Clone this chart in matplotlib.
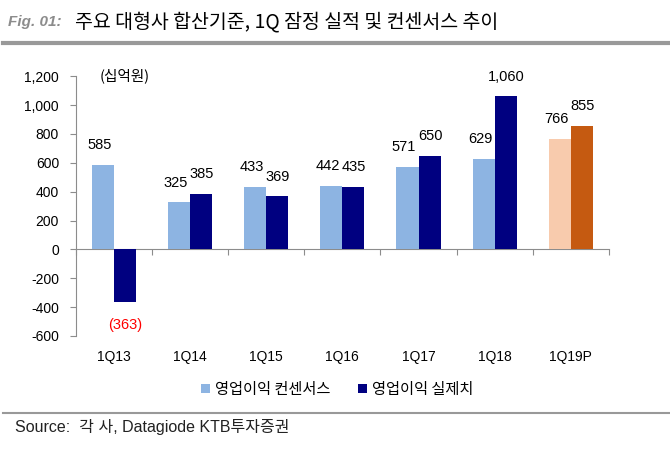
import matplotlib
matplotlib.use("Agg")
import matplotlib.pyplot as plt
import numpy as np

plt.rcParams['font.family'] = ['Liberation Sans', 'Noto Sans CJK KR', 'DejaVu Sans']

# data (십억원)
quarters = ['1Q13', '1Q14', '1Q15', '1Q16', '1Q17', '1Q18', '1Q19P']
consensus = [585, 325, 433, 442, 571, 629, 766]
actual = [-363, 385, 369, 435, 650, 1060, 855]

light_blue = '#8DB4E2'
navy = '#000080'
light_orange = '#F8CBAD'
dark_orange = '#C55A11'
gray = '#8C8C8C'

fig = plt.figure(figsize=(6.7, 4.59), dpi=100)
ax = fig.add_axes([0.113, 0.268, 0.796, 0.566])

x = np.arange(len(quarters))
w = 0.29
c_cols = [light_blue] * (len(quarters) - 1) + [light_orange]
a_cols = [navy] * (len(quarters) - 1) + [dark_orange]
b1 = ax.bar(x - w / 2, consensus, w, color=c_cols, label='영업이익 컨센서스')
b2 = ax.bar(x + w / 2, actual, w, color=a_cols, label='영업이익 실제치')

ax.set_xlim(-0.5, len(quarters) - 0.5)
ax.set_ylim(-600, 1200)
ax.set_yticks(np.arange(-600, 1201, 200))
ax.set_yticklabels([f'{v:,}' for v in range(-600, 1201, 200)], fontsize=10)
ax.tick_params(axis='y', length=4, color=gray, pad=8)

ax.set_xticks(x)
ax.set_xticklabels(quarters, fontsize=10)
ax.tick_params(axis='x', length=0, pad=10)

for s in ['top', 'right', 'bottom']:
    ax.spines[s].set_visible(False)
ax.spines['left'].set_color(gray)

# zero line axis with boundary ticks
sec = ax.secondary_xaxis(600 / 1800)
sec.set_xticks(np.arange(-0.5, len(quarters), 1.0))
sec.set_xticklabels([])
sec.tick_params(axis='x', direction='out', length=4, color=gray)
sec.spines['bottom'].set_color(gray)

# value labels
for xi, v in zip(x, consensus):
    ax.annotate(f'{v:,}', (xi - w / 2, v), xytext=(-2.5, 9), textcoords='offset points',
                ha='center', va='bottom', fontsize=10.5)
for xi, v in zip(x, actual):
    if v < 0:
        ax.annotate(f'({-v:,})', (xi + w / 2, v), xytext=(0, -12), textcoords='offset points',
                    ha='center', va='top', fontsize=10.5, color='#FF0000')
    else:
        ax.annotate(f'{v:,}', (xi + w / 2, v), xytext=(0.5, 9), textcoords='offset points',
                    ha='center', va='bottom', fontsize=10.5)

ax.text(0.045, 1.0, '(십억원)', transform=ax.transAxes, fontsize=10.5, va='center', ha='left',
        family=['Noto Sans CJK KR', 'DejaVu Sans'])

leg = ax.legend(handles=[b1[0], b2[0]], labels=['영업이익 컨센서스', '영업이익 실제치'],
                loc='upper center', bbox_to_anchor=(0.49, -0.12), ncol=2, frameon=False,
                prop={'family': ['Noto Sans CJK KR'], 'size': 11},
                handlelength=0.6, handleheight=0.6, handletextpad=0.3, columnspacing=1.8)

# title and source
fig.text(0.012, 0.952, 'Fig. 01:', fontsize=11, style='italic', weight='bold', color='#8C8C8C',
         va='center')
fig.text(0.112, 0.952, '주요 대형사 합산기준, 1Q 잠정 실적 및 컨센서스 추이', fontsize=14,
         va='center', family=['Noto Sans CJK KR', 'DejaVu Sans'])
fig.add_artist(plt.Line2D([0.005, 0.998], [0.906, 0.906], color='#999999', lw=3))
fig.add_artist(plt.Line2D([0.005, 0.998], [0.1, 0.1], color='#999999', lw=1.5))
fig.text(0.022, 0.07, 'Source:  각 사, Datagiode KTB투자증권', fontsize=11.5, color='#222222', va='center',
         family=['Liberation Sans', 'Noto Sans CJK KR'])

fig.savefig('out.png', dpi=100)
